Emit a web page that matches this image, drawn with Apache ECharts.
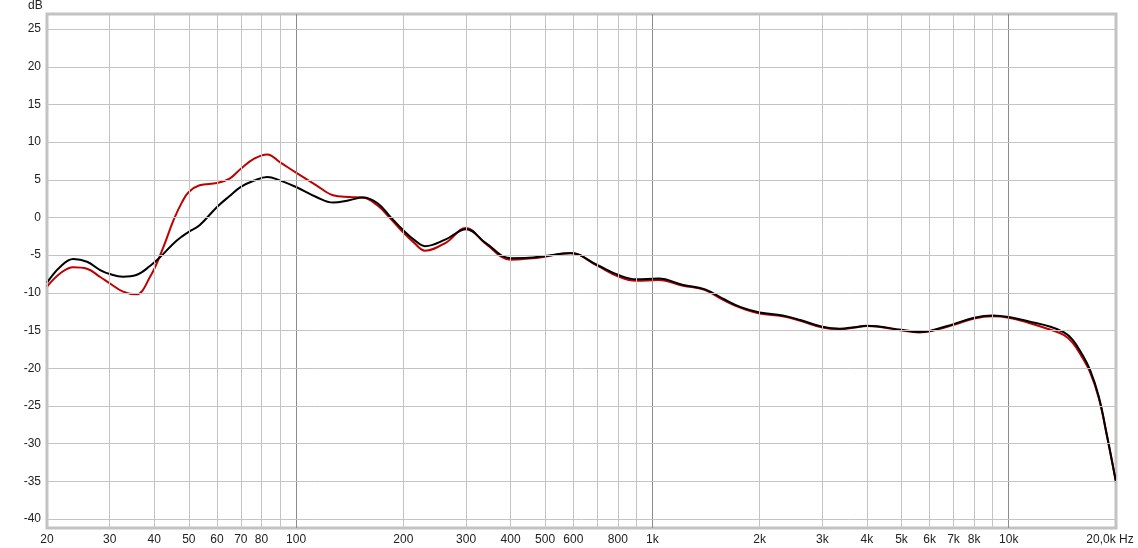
<!DOCTYPE html>
<html>
<head>
<meta charset="utf-8">
<script src="https://cdn.jsdelivr.net/npm/echarts@6/dist/echarts.min.js"></script>
<style>
  html, body { margin: 0; padding: 0; background: #fff; }
  #chart { width: 1138px; height: 548px; }
</style>
</head>
<body>
<div id="chart"></div>
<script>
// frequency points (Hz) and the two measured curves (dB)
const freqs = [20, 21.8, 23.7, 25.9, 28.2, 30, 32.7, 35.6, 38.9, 42.1, 45.3, 47.9, 50, 53.6, 60, 65.1, 70, 76.3, 83, 90,
  100, 114, 127, 141, 154, 169, 184, 200, 215, 230, 263, 300, 341, 400, 450, 500, 590, 700, 800, 900,
  1040, 1220, 1400, 1590, 1770, 2000, 2320, 2600, 3000, 3350, 3700, 4000, 5000, 5600, 6000, 7000, 8000, 9000,
  10000, 11400, 13100, 14300, 15100, 16000, 16900, 17900, 18900, 20000];
const blackDb = [-8.65, -6.53, -5.52, -5.87, -6.97, -7.5, -7.85, -7.63, -6.44, -4.99, -3.44, -2.5, -1.9, -1.02, 1.4, 2.85, 4.05, 4.9, 5.37, 4.93,
  4.05, 2.72, 1.98, 2.29, 2.65, 1.93, 0.08, -1.7, -3.0, -3.8, -2.9, -1.55, -3.4, -5.4, -5.35, -5.1, -4.75, -6.3, -7.6, -8.2,
  -8.1, -8.95, -9.5, -10.85, -11.9, -12.6, -13.0, -13.6, -14.5, -14.75, -14.55, -14.35, -14.9, -15.2, -15.05, -14.15, -13.3, -13.0,
  -13.2, -13.8, -14.5, -15.25, -16.2, -18.0, -20.2, -23.8, -29.1, -35.1];
const redDb = [-9.18, -7.4, -6.6, -6.8, -7.9, -8.73, -9.84, -10.2, -7.9, -4.33, -0.36, 2.07, 3.39, 4.27, 4.58, 5.16, 6.48, 7.8, 8.37, 7.35,
  5.95, 4.27, 2.95, 2.72, 2.65, 1.63, -0.13, -2.0, -3.4, -4.4, -3.36, -1.4, -3.5, -5.6, -5.45, -5.2, -4.7, -6.4, -7.8, -8.4,
  -8.3, -9.05, -9.6, -11.0, -12.0, -12.75, -13.1, -13.7, -14.6, -14.8, -14.6, -14.4, -15.0, -15.25, -15.1, -14.25, -13.4, -13.1,
  -13.3, -14.0, -14.9, -15.6, -16.6, -18.4, -20.5, -24.0, -29.2, -35.1];

// grid lines and tick labels
const xTickFreqs = [20, 30, 40, 50, 60, 70, 80, 90, 100, 200, 300, 400, 500, 600, 700, 800, 900,
  1000, 2000, 3000, 4000, 5000, 6000, 7000, 8000, 9000, 10000, 20000];
const xTickLabels = ['20', '30', '40', '50', '60', '70', '80', '', '100', '200', '300', '400', '500', '600', '', '800', '',
  '1k', '2k', '3k', '4k', '5k', '6k', '7k', '8k', '', '10k', '20,0k Hz'];
const yTicks = [-40, -35, -30, -25, -20, -15, -10, -5, 0, 5, 10, 15, 20, 25];

const decades = [100, 1000, 10000];
const labelFont = { color: '#222', fontSize: 12, fontFamily: 'Liberation Sans, Arial, sans-serif' };

const chart = echarts.init(document.getElementById('chart'));

const vLines = xTickFreqs.map((f, i) => ({
  xAxis: f,
  lineStyle: { color: decades.includes(f) ? '#8c8c8c' : '#c4c4c4', width: 1, type: 'solid' },
  label: {
    show: true, position: 'start', distance: 6, formatter: xTickLabels[i],
    offset: i === xTickFreqs.length - 1 ? [-6, 0] : [0, 0], ...labelFont
  }
}));
const hLines = yTicks.map(v => ({
  yAxis: v,
  lineStyle: { color: '#c4c4c4', width: 1, type: 'solid' },
  label: { show: true, position: 'start', distance: 6, formatter: String(v), ...labelFont }
}));

chart.setOption({
  animation: false,
  grid: { left: 47, right: 22, top: 14, bottom: 20, show: true, borderColor: '#c2c2c2', borderWidth: 3, backgroundColor: '#fff' },
  xAxis: {
    type: 'log', logBase: 10, min: 20, max: 20000,
    axisLine: { show: false }, axisTick: { show: false }, axisLabel: { show: false }, splitLine: { show: false }
  },
  yAxis: {
    type: 'value', min: -41.2, max: 27,
    axisLine: { show: false }, axisTick: { show: false }, axisLabel: { show: false }, splitLine: { show: false }
  },
  graphic: [
    { type: 'text', left: 28, top: 0, style: { text: 'dB', fill: '#222', font: '12px Liberation Sans, Arial, sans-serif' } }
  ],
  series: [
    {
      type: 'line', data: [], z: 1, silent: true,
      markLine: { silent: true, symbol: 'none', animation: false, data: vLines.concat(hLines) }
    },
    {
      name: 'red', type: 'line', z: 3, smooth: 0.4, symbol: 'none',
      data: freqs.map((f, i) => [f, redDb[i]]),
      lineStyle: { color: '#c00000', width: 2 }
    },
    {
      name: 'black', type: 'line', z: 4, smooth: 0.4, symbol: 'none',
      data: freqs.map((f, i) => [f, blackDb[i]]),
      lineStyle: { color: '#000000', width: 2 }
    }
  ]
});
</script>
</body>
</html>
